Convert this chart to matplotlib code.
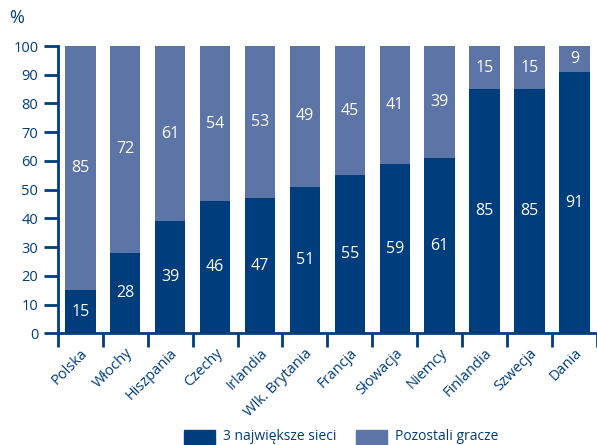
import matplotlib
matplotlib.use("Agg")
import matplotlib.pyplot as plt
from matplotlib.patches import Rectangle
import numpy as np

plt.rcParams['font.family'] = ['Open Sans', 'DejaVu Sans']

countries = ["Polska", "Włochy", "Hiszpania", "Czechy", "Irlandia", "Wlk. Brytania",
             "Francja", "Słowacja", "Niemcy", "Finlandia", "Szwecja", "Dania"]
top3 = [15, 28, 39, 46, 47, 51, 55, 59, 61, 85, 85, 91]
others = [85, 72, 61, 54, 53, 49, 45, 41, 39, 15, 15, 9]
yticks = [0, 10, 20, 30, 40, 50, 60, 70, 80, 90, 100]
legend_labels = ["3 największe sieci", "Pozostali gracze"]

DARK = "#003D7D"
LIGHT = "#5D74A7"
AXIS = "#003D7D"

W, H = 597, 445
fig = plt.figure(figsize=(W / 100, H / 100), dpi=100)
ax = fig.add_axes([57.8 / W, 1 - 333.3 / H, 1 - 57.8 / W, (333.3 - 46) / H])

x = np.arange(len(countries))
ax.bar(x, top3, width=0.68, color=DARK, zorder=2)
ax.bar(x, others, width=0.68, bottom=top3, color=LIGHT, zorder=2)

for xi, a, b in zip(x, top3, others):
    ax.text(xi, a / 2, str(a), ha='center', va='center', color='white',
            fontsize=11.5, zorder=3)
    ax.text(xi, a + b / 2, str(b), ha='center', va='center', color='white',
            fontsize=11.5, zorder=3)

ax.set_xlim(-0.5, 11.5)
ax.set_ylim(0, 100)
ax.set_yticks(yticks)
ax.set_yticklabels([str(v) for v in yticks])
ax.set_xticks(np.arange(-0.5, 12, 1.0))
ax.set_xticklabels([])
ax.set_xticks(x, minor=True)
ax.set_xticklabels(countries, minor=True, rotation=45, ha='right',
                   rotation_mode='anchor', color=AXIS, fontsize=10.5)
ax.tick_params(axis='x', which='minor', length=0, pad=9)
ax.tick_params(axis='x', which='major', length=10, width=2, color=AXIS, direction='out')
ax.tick_params(axis='y', length=10, width=2, color=AXIS, direction='out',
               labelcolor=AXIS, labelsize=10.5, pad=4)

for s in ['top', 'right']:
    ax.spines[s].set_visible(False)
for s in ['left', 'bottom']:
    ax.spines[s].set_color(AXIS)
    ax.spines[s].set_linewidth(2)
ax.set_facecolor('none')

fig.text(17 / W, 1 - 18 / H, "%", ha='center', va='center', color=AXIS, fontsize=13)

# legend drawn along the bottom edge
for (px, col, lab) in [(184, DARK, legend_labels[0]), (356, LIGHT, legend_labels[1])]:
    fig.patches.append(Rectangle((px / W, 1 - 452 / H), 31 / W, 22 / H,
                                 transform=fig.transFigure, color=col))
    fig.text((px + 39) / W, 1 - 437 / H, lab, ha='left', va='center',
             color=AXIS, fontsize=10)

fig.savefig("out.png", dpi=100)
